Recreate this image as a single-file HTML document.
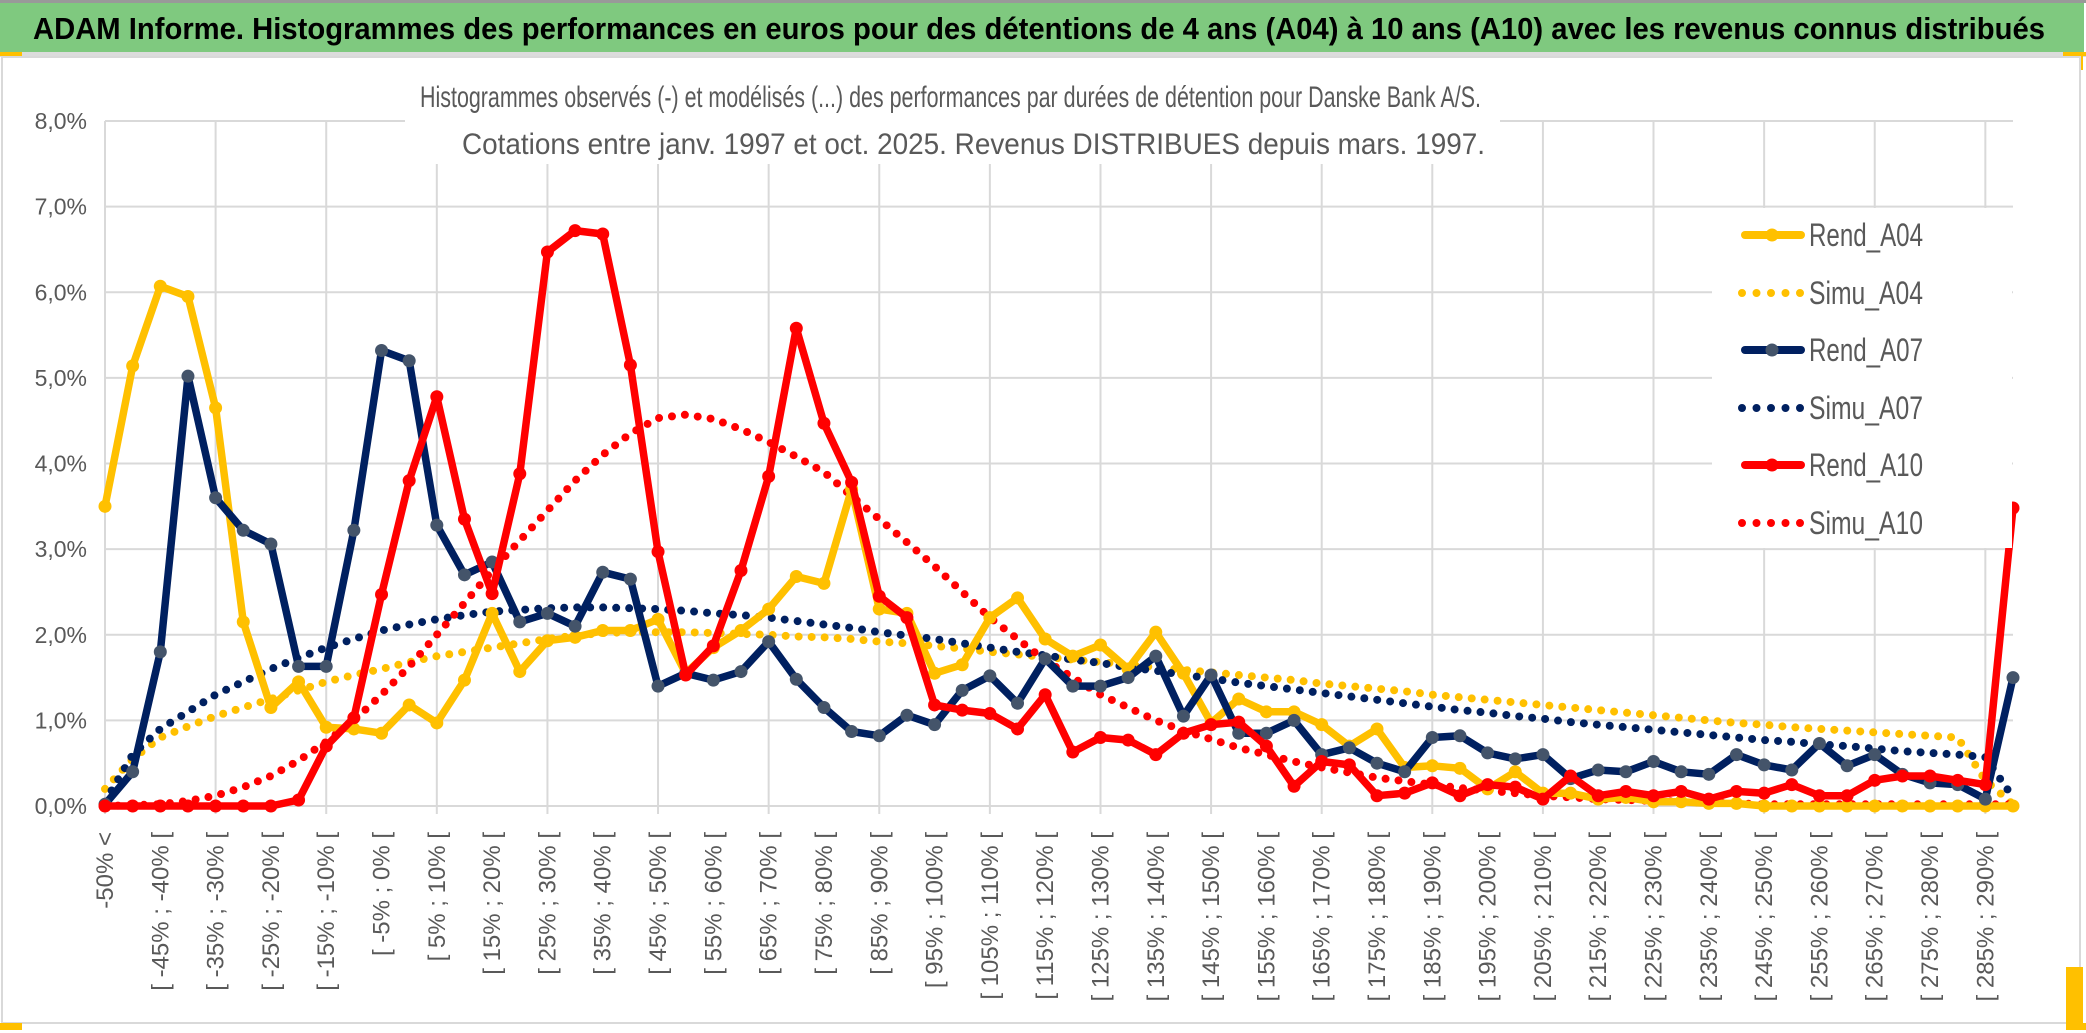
<!DOCTYPE html>
<html><head><meta charset="utf-8"><style>
html,body{margin:0;padding:0;background:#fff;}
svg{display:block;}
text{font-family:"Liberation Sans Narrow","Liberation Sans",sans-serif;}
</style></head><body>
<svg id="chart" width="2086" height="1033" viewBox="0 0 2086 1033" xmlns="http://www.w3.org/2000/svg">
  <rect x="0" y="0" width="2086" height="1033" fill="#fff"/>
  <rect x="0" y="0" width="2086" height="3" fill="#999"/>
  <rect x="0" y="3" width="2084" height="49" fill="#7fc97f"/>
  <rect x="0" y="52" width="2086" height="5" fill="#dcdcdc"/>
  <rect x="0" y="52" width="22" height="4" fill="#ffc000"/>
  <rect x="2063" y="52" width="23" height="4" fill="#ffc000"/>
  <rect x="2080" y="52" width="3" height="18" fill="#ffc000"/>
  <rect x="2" y="57" width="2078" height="966" fill="none" stroke="#d9d9d9" stroke-width="2"/>
  <rect x="0" y="1023" width="22" height="7" fill="#ffc000"/>
  <rect x="2066" y="967" width="17" height="63" fill="#ffc000"/>
  <rect x="2066" y="1023" width="20" height="7" fill="#ffc000"/>
  <text x="33" y="39" font-size="31" font-weight="bold" fill="#000" textLength="2012" lengthAdjust="spacingAndGlyphs">ADAM Informe. Histogrammes des performances en euros pour des détentions de 4 ans (A04) à 10 ans (A10) avec les revenus connus distribués</text>
  <g id="grid"></g>
  <rect x="405" y="60" width="1095" height="104" fill="#fff"/>
  <text x="420" y="107" font-size="30" fill="#595959" textLength="1061" lengthAdjust="spacingAndGlyphs">Histogrammes observés (-) et modélisés (...) des performances par durées de détention pour Danske Bank A/S.</text>
  <text x="462" y="154" font-size="30" fill="#595959" textLength="1023" lengthAdjust="spacingAndGlyphs">Cotations entre janv. 1997 et oct. 2025. Revenus DISTRIBUES depuis mars. 1997.</text>
  <g id="yaxis"></g>
  <g id="xaxis"></g>
  <g id="series"></g>
  <rect x="1712" y="208" width="300" height="340" fill="#fff"/>
  <g id="legend"></g>
</svg>
<script>
const categoriesCount = 70;
const yTicks = ["0,0%","1,0%","2,0%","3,0%","4,0%","5,0%","6,0%","7,0%","8,0%"];
const rendA04 = [3.5,5.14,6.07,5.95,4.65,2.15,1.15,1.45,0.92,0.9,0.85,1.18,0.97,1.47,2.25,1.57,1.93,1.97,2.05,2.05,2.18,1.55,1.85,2.05,2.3,2.68,2.6,3.7,2.3,2.25,1.55,1.65,2.2,2.43,1.95,1.75,1.88,1.6,2.03,1.55,0.97,1.25,1.1,1.1,0.95,0.7,0.9,0.45,0.47,0.44,0.2,0.4,0.15,0.15,0.08,0.1,0.05,0.05,0.03,0.03,0.0,0.0,0.0,0.0,0.0,0.0,0.0,0.0,0.0,0.0];
const rendA07 = [0.02,0.4,1.8,5.02,3.6,3.22,3.06,1.63,1.63,3.22,5.32,5.2,3.28,2.7,2.85,2.15,2.25,2.1,2.73,2.65,1.4,1.55,1.47,1.57,1.92,1.48,1.15,0.87,0.82,1.06,0.95,1.35,1.52,1.2,1.72,1.4,1.4,1.5,1.75,1.05,1.53,0.85,0.85,1.0,0.6,0.68,0.5,0.4,0.8,0.82,0.62,0.55,0.6,0.32,0.42,0.4,0.52,0.4,0.37,0.6,0.48,0.42,0.73,0.47,0.6,0.37,0.27,0.25,0.08,1.5];
const rendA10 = [0,0,0,0,0,0,0,0.07,0.7,1.03,2.47,3.8,4.78,3.35,2.48,3.88,6.47,6.72,6.68,5.15,2.97,1.53,1.87,2.75,3.85,5.58,4.47,3.78,2.45,2.2,1.18,1.12,1.08,0.9,1.3,0.63,0.8,0.77,0.6,0.85,0.95,0.98,0.7,0.23,0.52,0.48,0.12,0.15,0.27,0.12,0.25,0.22,0.08,0.35,0.12,0.17,0.12,0.17,0.08,0.17,0.15,0.25,0.12,0.12,0.3,0.35,0.35,0.3,0.25,3.48];
const simuA04 = [0.2,0.55,0.8,0.93,1.05,1.15,1.25,1.35,1.45,1.53,1.6,1.68,1.75,1.8,1.85,1.9,1.95,1.99,2.02,2.03,2.03,2.03,2.02,2.01,2.0,1.98,1.97,1.95,1.92,1.9,1.87,1.84,1.8,1.77,1.74,1.71,1.68,1.65,1.62,1.59,1.56,1.53,1.5,1.47,1.43,1.4,1.37,1.34,1.3,1.27,1.24,1.21,1.18,1.15,1.12,1.09,1.06,1.03,1.0,0.97,0.95,0.92,0.9,0.88,0.86,0.84,0.82,0.8,0.3,0.02];
const simuA07 = [0.05,0.6,0.9,1.1,1.3,1.45,1.6,1.73,1.85,1.95,2.05,2.12,2.18,2.23,2.27,2.29,2.31,2.32,2.32,2.31,2.3,2.28,2.25,2.23,2.2,2.16,2.12,2.08,2.03,1.99,1.95,1.9,1.85,1.8,1.76,1.71,1.67,1.62,1.58,1.53,1.49,1.44,1.4,1.36,1.32,1.28,1.24,1.2,1.16,1.12,1.09,1.05,1.02,0.98,0.95,0.92,0.89,0.86,0.83,0.8,0.77,0.75,0.72,0.7,0.67,0.64,0.62,0.6,0.57,0.1];
const simuA10 = [0,0.01,0.02,0.06,0.12,0.22,0.35,0.53,0.75,1.0,1.3,1.63,2.0,2.37,2.75,3.1,3.45,3.8,4.1,4.35,4.53,4.57,4.52,4.4,4.25,4.08,3.9,3.62,3.35,3.08,2.8,2.5,2.2,1.95,1.7,1.5,1.3,1.15,1.0,0.88,0.78,0.68,0.6,0.52,0.45,0.39,0.33,0.29,0.25,0.21,0.18,0.15,0.12,0.1,0.08,0.07,0.06,0.05,0.04,0.03,0.02,0.02,0.02,0.02,0.02,0.02,0.02,0.02,0.02,0.02];

const NS = "http://www.w3.org/2000/svg";
const X0 = 105, X1 = 2013, Y0 = 806, YTOP = 121, YMAX = 8;
function xPos(i){ return X0 + i*(X1-X0)/(categoriesCount-1); }
function yPos(v){ return Y0 - v*(Y0-YTOP)/YMAX; }
function catLabel(i){
  if(i===0) return "-50% <";
  const lo = -55+5*i, hi = -50+5*i;
  return "[ " + lo + "% ; " + hi + "% [";
}
function mk(tag, attrs, parent){
  const el = document.createElementNS(NS, tag);
  for(const k in attrs) el.setAttribute(k, attrs[k]);
  parent.appendChild(el);
  return el;
}
const grid = document.getElementById('grid');
for(let t=0;t<yTicks.length;t++){
  const l = mk('line',{x1:X0,x2:X1,y1:yPos(t),y2:yPos(t),stroke:'#d9d9d9','stroke-width':2},grid);
  
  
}
for(let i=0;i<categoriesCount;i+=4){
  const l = mk('line',{x1:xPos(i),x2:xPos(i),y1:YTOP,y2:Y0+8,stroke:'#d9d9d9','stroke-width':2},grid);
  
  
}
const yaxis = document.getElementById('yaxis');
yTicks.forEach((lab,t)=>{
  const tx = mk('text',{x:87,y:yPos(t)+8,'text-anchor':'end','font-size':23,fill:'#595959'},yaxis);
  tx.textContent = lab;
  
  
});
const xaxis = document.getElementById('xaxis');
for(let i=0;i<categoriesCount;i+=2){
  const x = xPos(i)+8, y = 832;
  const tx = mk('text',{x:x,y:y,'text-anchor':'end','font-size':24,fill:'#595959',transform:'rotate(-90 '+x+' '+y+')'},xaxis);
  tx.textContent = catLabel(i);
  
  
}
const series = document.getElementById('series');
function pts(arr){ return arr.map((v,i)=>xPos(i).toFixed(1)+','+yPos(v).toFixed(1)).join(' '); }
function dotted(arr,color,name){
  const p = mk('polyline',{points:pts(arr),fill:'none',stroke:color,'stroke-width':8,'stroke-linecap':'round','stroke-dasharray':'0 13'},series);
  
  
}
function solid(arr,color,mcolor,name){
  const g = mk('g',{},series);
  
  
  mk('polyline',{points:pts(arr),fill:'none',stroke:color,'stroke-width':7.5,'stroke-linejoin':'round'},g);
  arr.forEach((v,i)=>{
    const c = mk('circle',{cx:xPos(i),cy:yPos(v),r:6.5,fill:mcolor},g);
    
    
  });
}
dotted(simuA04,'#ffc000','simu-a04-line');
dotted(simuA07,'#002060','simu-a07-line');
dotted(simuA10,'#ff0000','simu-a10-line');
solid(rendA04,'#ffc000','#ffc000','rend-a04-line');
solid(rendA07,'#002060','#44546a','rend-a07-line');
solid(rendA10,'#ff0000','#ff0000','rend-a10-line');

const legend = document.getElementById('legend');
const legendNames = ["Rend_A04","Simu_A04","Rend_A07","Simu_A07","Rend_A10","Simu_A10"];
const legendColors = ['#ffc000','#ffc000','#002060','#002060','#ff0000','#ff0000'];
const legendY = [235,293,350,408,465,523];
legendNames.forEach((n,k)=>{
  const g = mk('g',{},legend);
  
  
  const y = legendY[k];
  if(k%2===0){
    mk('line',{x1:1745,x2:1801,y1:y,y2:y,stroke:legendColors[k],'stroke-width':8,'stroke-linecap':'round'},g);
    mk('circle',{cx:1772,cy:y,r:6.5,fill:k===2?'#44546a':legendColors[k]},g);
  } else {
    mk('line',{x1:1742,x2:1804,y1:y,y2:y,stroke:legendColors[k],'stroke-width':8,'stroke-linecap':'round','stroke-dasharray':'0 14.5'},g);
  }
  const t = mk('text',{x:1809,y:y+11,'font-size':32,fill:'#595959',textLength:114,lengthAdjust:'spacingAndGlyphs'},g);
  t.textContent = n;
});
</script>
</body></html>
